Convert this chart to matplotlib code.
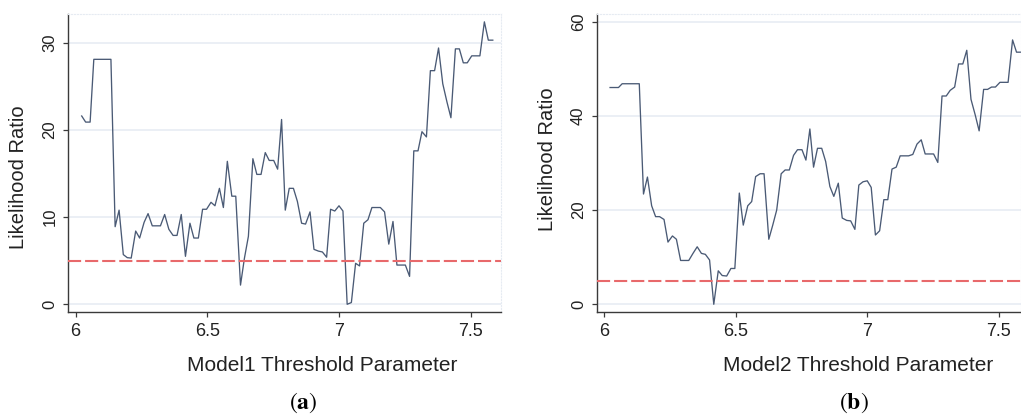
import matplotlib
matplotlib.use("Agg")
import matplotlib.pyplot as plt

plt.rcParams['font.family'] = ['Liberation Sans', 'DejaVu Sans']
plt.rcParams['mathtext.fontset'] = 'stix'

# threshold parameter grid
threshold = [6.023, 6.038, 6.055, 6.069, 6.085, 6.101, 6.117, 6.134, 6.150, 6.165,
             6.181, 6.196, 6.211, 6.228, 6.243, 6.260, 6.275, 6.291, 6.306, 6.322,
             6.338, 6.354, 6.370, 6.385, 6.401, 6.417, 6.434, 6.449, 6.466, 6.482,
             6.497, 6.514, 6.529, 6.546, 6.561, 6.576, 6.593, 6.608, 6.626, 6.641,
             6.656, 6.673, 6.688, 6.704, 6.720, 6.735, 6.752, 6.767, 6.782, 6.796,
             6.811, 6.827, 6.842, 6.858, 6.873, 6.890, 6.905, 6.922, 6.937, 6.953,
             6.968, 6.984, 7.000, 7.015, 7.031, 7.047, 7.063, 7.078, 7.094, 7.110,
             7.125, 7.141, 7.157, 7.173, 7.189, 7.205, 7.220, 7.237, 7.252, 7.268,
             7.284, 7.300, 7.315, 7.332, 7.347, 7.363, 7.378, 7.394, 7.410, 7.425,
             7.442, 7.457, 7.472, 7.487, 7.504, 7.520, 7.535, 7.552, 7.567, 7.584]

lr_model1 = [21.6, 20.9, 20.9, 28.1, 28.1, 28.1, 28.1, 28.1, 8.9, 10.8,
             5.7, 5.35, 5.3, 8.4, 7.6, 9.4, 10.4, 9.0, 9.0, 9.0,
             10.3, 8.6, 7.9, 7.9, 10.3, 5.5, 9.3, 7.6, 7.6, 10.9,
             10.9, 11.7, 11.3, 13.3, 11.1, 16.4, 12.4, 12.4, 2.2, 5.3,
             7.8, 16.7, 14.9, 14.9, 17.4, 16.5, 16.5, 15.5, 21.2, 10.8,
             13.3, 13.3, 11.8, 9.3, 9.2, 10.6, 6.3, 6.1, 6.0, 5.4,
             10.9, 10.7, 11.3, 10.7, 0.0, 0.2, 4.7, 4.4, 9.3, 9.7,
             11.1, 11.1, 11.1, 10.6, 6.9, 9.5, 4.5, 4.5, 4.5, 3.2,
             17.6, 17.6, 19.8, 19.2, 26.8, 26.8, 29.4, 25.3, 23.2, 21.4,
             29.3, 29.3, 27.7, 27.7, 28.5, 28.5, 28.5, 32.4, 30.3, 30.3]

lr_model2 = [46.0, 46.0, 46.0, 46.8, 46.8, 46.8, 46.8, 46.8, 23.4, 27.0,
             20.9, 18.6, 18.6, 18.0, 13.2, 14.5, 13.8, 9.3, 9.3, 9.3,
             10.8, 12.2, 10.8, 10.6, 9.4, 0.0, 7.1, 6.1, 6.0, 7.6,
             7.6, 23.6, 16.8, 20.9, 21.8, 27.1, 27.7, 27.7, 13.8, 16.8,
             20.0, 27.7, 28.5, 28.5, 31.6, 32.8, 32.8, 30.6, 37.2, 29.1,
             33.1, 33.1, 30.3, 25.0, 22.9, 25.7, 18.3, 17.8, 17.7, 15.9,
             25.3, 26.0, 26.2, 24.8, 14.7, 15.6, 22.2, 22.2, 28.7, 29.1,
             31.5, 31.5, 31.5, 31.8, 34.0, 34.9, 31.9, 31.9, 31.9, 30.1,
             44.2, 44.2, 45.4, 46.1, 51.0, 51.0, 53.9, 43.5, 40.2, 36.8,
             45.6, 45.6, 46.1, 46.1, 47.1, 47.1, 47.1, 56.1, 53.5, 53.5]

critical_value = 5.0
x_ticks = [6, 6.5, 7, 7.5]
x_ticklabels = ["6", "6.5", "7", "7.5"]
y_ticks_a = [0, 10, 20, 30]
y_ticks_b = [0, 20, 40, 60]
x_titles = ["Model1 Threshold Parameter", "Model2 Threshold Parameter"]
y_title = "Likelihood Ratio"
captions = ["a", "b"]

W, H = 1021, 415
fig = plt.figure(figsize=(W / 100, H / 100), dpi=100)

def px_axes(l, t, r, b):
    return fig.add_axes([l / W, 1 - b / H, (r - l) / W, (b - t) / H])

ax_a = px_axes(68, 14, 500.7, 312.3)
ax_b = px_axes(596.5, 14, 1021, 312.3)

line_c = '#4a5a75'
red_c = '#e8696b'
grid_c = '#e6ebf2'
spine_c = '#3a3a3a'

for ax, y, yt, xlim, ylim in [
        (ax_a, lr_model1, y_ticks_a, (5.971, 7.614), (-0.92, 33.3)),
        (ax_b, lr_model2, y_ticks_b, (5.9715, 7.584), (-1.70, 61.6))]:
    for v in yt:
        ax.axhline(v, color=grid_c, lw=1.1, zorder=0)
    ax.plot(threshold, y, color=line_c, lw=0.95, zorder=2)
    ax.axhline(critical_value, color=red_c, lw=1.5, dashes=(6.3, 1.9), zorder=3)
    ax.set_xlim(*xlim)
    ax.set_ylim(*ylim)
    ax.set_xticks(x_ticks)
    ax.set_xticklabels(x_ticklabels, fontsize=13)
    ax.set_yticks(yt)
    ax.set_yticklabels([str(v) for v in yt], rotation=90, va='center', fontsize=12)
    ax.tick_params(axis='both', direction='out', length=3.6, width=0.9,
                   color=spine_c, labelcolor='#222222', pad=4)
    for s in ['left', 'bottom']:
        ax.spines[s].set_color(spine_c)
        ax.spines[s].set_linewidth(1.0)
    for s in ['top', 'right']:
        ax.spines[s].set_color(grid_c)
        ax.spines[s].set_linestyle(':')
        ax.spines[s].set_linewidth(0.8)

# axis titles
fig.text(322 / W, 1 - 371 / H, x_titles[0], ha='center', va='baseline',
         fontsize=15, color='#222222')
fig.text(858 / W, 1 - 371 / H, x_titles[1], ha='center', va='baseline',
         fontsize=15, color='#222222')
fig.text(18.5 / W, 1 - 177 / H, y_title, rotation=90, ha='center', va='center',
         fontsize=14.5, color='#222222')
fig.text(547.5 / W, 1 - 159 / H, y_title, rotation=90, ha='center', va='center',
         fontsize=14.5, color='#222222')

# captions
for cx, c in [(303, captions[0]), (854, captions[1])]:
    fig.text(cx / W, 1 - 409 / H, r'$(\mathbf{%s})$' % c, ha='center',
             va='baseline', fontsize=17, color='black')

fig.savefig("out.png", dpi=100)
